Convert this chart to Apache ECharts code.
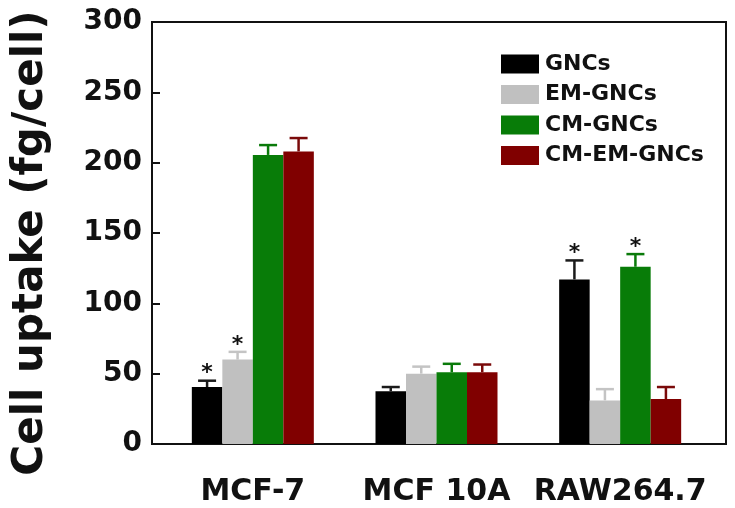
<!DOCTYPE html>
<html><head><meta charset="utf-8">
<script src="https://cdn.jsdelivr.net/npm/echarts@6/dist/echarts.min.js"></script>
<style>html,body{margin:0;padding:0;background:#fff}#c{width:735px;height:508px}</style>
</head><body><div id="c"></div>
<script>
const categories = ['MCF-7', 'MCF 10A', 'RAW264.7'];
const seriesNames = ['GNCs', 'EM-GNCs', 'CM-GNCs', 'CM-EM-GNCs'];
const gncs = [40.5, 37.5, 117];
const emGncs = [60, 50, 31];
const cmGncs = [205.5, 51, 126];
const cmEmGncs = [208, 51, 32];
const gncsErr = [4.5, 3, 13.5];
const emGncsErr = [5.5, 5, 8];
const cmGncsErr = [7, 6, 9];
const cmEmGncsErr = [9.5, 5.5, 8.5];
const gncsStar = [true, false, true];
const emGncsStar = [true, false, false];
const cmGncsStar = [false, false, true];
const cmEmGncsStar = [false, false, false];
const yTicks = [0, 50, 100, 150, 200, 250, 300];

const values = [gncs, emGncs, cmGncs, cmEmGncs];
const errs = [gncsErr, emGncsErr, cmGncsErr, cmEmGncsErr];
const stars = [gncsStar, emGncsStar, cmGncsStar, cmEmGncsStar];
const colors = ['#000000', '#c0c0c0', '#087c08', '#800000'];
const errColors = ['#1a1a1a', '#c4c4c4', '#0a7a0a', '#7a0a0a'];
const FONT = 'DejaVu Sans';
const BW = 30.5;

const chart = echarts.init(document.getElementById('c'));
const series = [];
values.forEach((v, s) => {
  series.push({
    type: 'bar', name: seriesNames[s], xAxisIndex: 1, yAxisIndex: 1,
    data: v, barWidth: BW, barGap: '0%',
    itemStyle: { color: colors[s] }, z: 2
  });
});
values.forEach((v, s) => {
  series.push({
    type: 'custom', xAxisIndex: 1, yAxisIndex: 1, z: 3, silent: true,
    data: v.map((val, i) => [i, val, errs[s][i], stars[s][i] ? 1 : 0]),
    renderItem: function (params, api) {
      const xi = api.value(0), val = api.value(1), e = api.value(2), st = api.value(3);
      const base = api.coord([xi, val]);
      const top = api.coord([xi, val + e]);
      const x = base[0] + (s - 1.5) * BW;
      const children = [
        { type: 'line', shape: { x1: x, y1: base[1], x2: x, y2: top[1] }, style: { stroke: errColors[s], lineWidth: 2.5 } },
        { type: 'line', shape: { x1: x - 9, y1: top[1], x2: x + 9, y2: top[1] }, style: { stroke: errColors[s], lineWidth: 2.5 } }
      ];
      if (st) {
        children.push({ type: 'text', style: { text: '*', x: x, y: top[1] - 7, align: 'center', verticalAlign: 'middle', font: 'bold 22px "DejaVu Sans"', fill: '#111' } });
      }
      return { type: 'group', children: children };
    }
  });
});

chart.setOption({
  animation: false,
  grid: [
    { left: 152, right: 9, top: 22, bottom: 64, show: true, borderColor: '#111', borderWidth: 2, backgroundColor: 'transparent' },
    { left: 161, right: 23, top: 22, bottom: 64 }
  ],
  legend: {
    data: seriesNames, orient: 'vertical', left: 501, top: 53,
    itemWidth: 38, itemHeight: 19, itemGap: 8.5,
    icon: 'rect',
    textStyle: { fontFamily: FONT, fontWeight: 'bold', fontSize: 22, color: '#111', padding: [0, 0, 0, 1] },
    padding: 0
  },
  xAxis: [
    { type: 'value', gridIndex: 0, show: false, min: 0, max: 1 },
    { type: 'category', gridIndex: 1, data: categories,
      axisLine: { show: false }, axisTick: { show: false },
      axisLabel: { interval: 0, fontFamily: FONT, fontWeight: 'bold', fontSize: 30, color: '#111', margin: 33 } }
  ],
  yAxis: [
    { type: 'value', gridIndex: 0, show: false, min: 0, max: 1 },
    { type: 'value', gridIndex: 1, min: 0, max: 300, interval: 50, offset: 9,
      axisLine: { show: true, lineStyle: { color: '#111', width: 2 } },
      axisTick: { show: true, inside: true, length: 8, lineStyle: { color: '#111', width: 2 } },
      splitLine: { show: false },
      axisLabel: { fontFamily: FONT, fontWeight: 'bold', fontSize: 28, color: '#111', margin: 10,
        formatter: v => yTicks.includes(v) ? String(v) : '' },
      name: 'Cell uptake (fg/cell)', nameLocation: 'middle', nameGap: 100,
      nameTextStyle: { fontFamily: FONT, fontWeight: 'bold', fontSize: 42, color: '#111', padding: [0, 20, 0, 0] }
    }
  ],
  series: series
});
</script></body></html>
